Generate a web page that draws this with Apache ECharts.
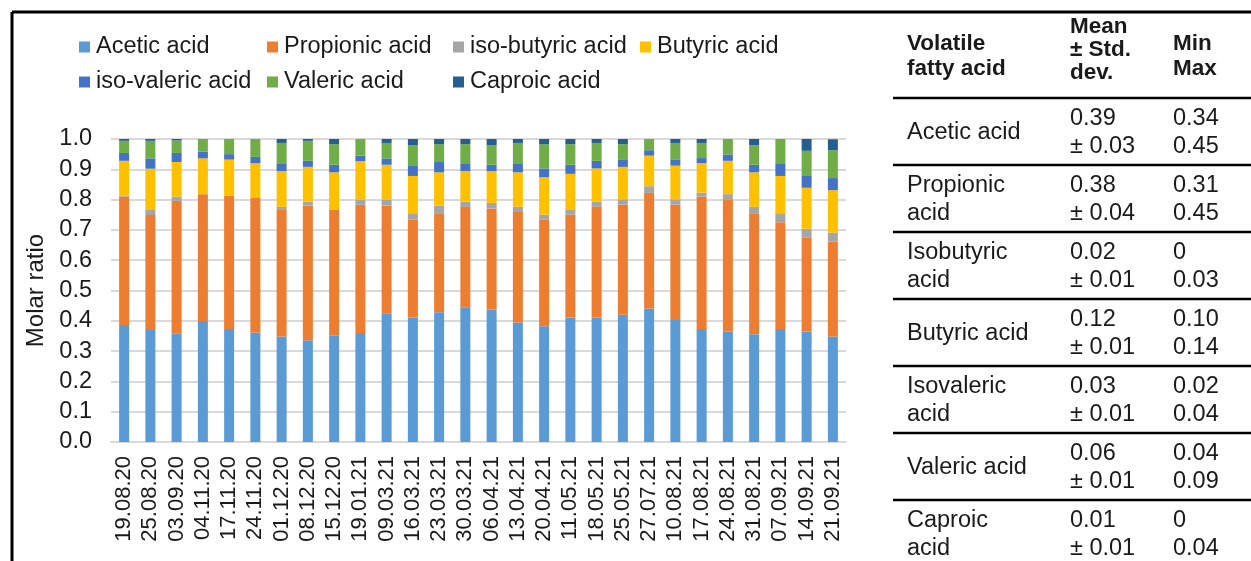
<!DOCTYPE html>
<html>
<head>
<meta charset="utf-8">
<script src="https://cdn.jsdelivr.net/npm/echarts@6/dist/echarts.min.js"></script>
<style>
  html, body { margin: 0; padding: 0; background: #fff; }
  #chart { width: 1251px; height: 561px; }
</style>
</head>
<body>
<div id="chart"></div>
<script>
// Sampling dates (x axis)
const dates = ['19.08.20','25.08.20','03.09.20','04.11.20','17.11.20','24.11.20','01.12.20','08.12.20','15.12.20',
  '19.01.21','09.03.21','16.03.21','23.03.21','30.03.21','06.04.21','13.04.21','20.04.21','11.05.21','18.05.21',
  '25.05.21','27.07.21','10.08.21','17.08.21','24.08.21','31.08.21','07.09.21','14.09.21','21.09.21'];

// Molar ratio of each acid per sample
const acetic     = [0.386,0.370,0.357,0.399,0.373,0.361,0.348,0.336,0.351,0.360,0.425,0.411,0.428,0.445,0.437,0.394,0.382,0.411,0.411,0.420,0.441,0.403,0.373,0.365,0.356,0.373,0.365,0.348];
const propionic  = [0.424,0.379,0.439,0.419,0.440,0.444,0.420,0.444,0.416,0.423,0.355,0.323,0.327,0.331,0.334,0.365,0.352,0.339,0.365,0.364,0.381,0.381,0.437,0.436,0.399,0.352,0.309,0.313];
const isoButyric = [0.004,0.019,0.014,0.000,0.000,0.000,0.008,0.013,0.000,0.017,0.020,0.021,0.025,0.017,0.018,0.017,0.016,0.018,0.017,0.017,0.022,0.017,0.013,0.017,0.021,0.030,0.030,0.030];
const butyric    = [0.114,0.134,0.114,0.118,0.119,0.115,0.118,0.115,0.123,0.127,0.115,0.123,0.110,0.101,0.105,0.114,0.124,0.117,0.110,0.107,0.101,0.111,0.097,0.110,0.114,0.123,0.135,0.140];
const isoValeric = [0.026,0.034,0.030,0.022,0.018,0.021,0.026,0.020,0.025,0.018,0.021,0.033,0.034,0.026,0.021,0.030,0.029,0.030,0.025,0.025,0.018,0.021,0.017,0.021,0.025,0.042,0.039,0.040];
const valeric    = [0.040,0.058,0.041,0.042,0.050,0.059,0.067,0.066,0.068,0.055,0.051,0.068,0.059,0.063,0.064,0.067,0.080,0.068,0.059,0.050,0.037,0.054,0.050,0.051,0.064,0.080,0.083,0.092];
const caproic    = [0.006,0.006,0.007,0.000,0.000,0.000,0.013,0.006,0.017,0.000,0.013,0.021,0.017,0.017,0.021,0.013,0.017,0.017,0.013,0.017,0.000,0.013,0.013,0.000,0.021,0.000,0.039,0.036];

const seriesNames  = ['Acetic acid','Propionic acid','iso-butyric acid','Butyric acid','iso-valeric acid','Valeric acid','Caproic acid'];
const seriesValues = [acetic, propionic, isoButyric, butyric, isoValeric, valeric, caproic];
const seriesColors = ['#5B9BD5','#ED7D31','#A5A5A5','#FFC000','#4472C4','#70AD47','#255E91'];

// Summary table
const tableHeader = [['Volatile','fatty acid'], ['Mean','± Std.','dev.'], ['Min','Max']];
const tableNames  = [['Acetic acid'], ['Propionic','acid'], ['Isobutyric','acid'], ['Butyric acid'], ['Isovaleric','acid'], ['Valeric acid'], ['Caproic','acid']];
const tableMeans  = ['0.39','0.38','0.02','0.12','0.03','0.06','0.01'];
const tableSDs    = ['± 0.03','± 0.04','± 0.01','± 0.01','± 0.01','± 0.01','± 0.01'];
const tableMins   = ['0.34','0.31','0','0.10','0.02','0.04','0'];
const tableMaxs   = ['0.45','0.45','0.03','0.14','0.04','0.09','0.04'];

const FONT = '"Liberation Sans", Arial, sans-serif';
const TXT = '#1a1a1a';

const chart = echarts.init(document.getElementById('chart'), null, { renderer: 'canvas' });

// Legend laid out as a grid of fixed columns
const legendCols = [79, 267, 453, 640];
const legendRows = [35, 70];
const legends = seriesNames.map((name, i) => ({
  data: [name],
  left: legendCols[i < 4 ? i : i - 4],
  top: legendRows[i < 4 ? 0 : 1],
  padding: 0,
  itemWidth: 11,
  itemHeight: 11,
  icon: 'rect',
  selectedMode: false,
  textStyle: { fontFamily: FONT, fontSize: 23.5, color: TXT, padding: [0, 0, 0, 1] }
}));

// Table graphics
const graphics = [];
const tblLeft = 893, tblRight = 1251;
const colX = [907, 1070, 1173];
const rowTops = [98, 165, 232, 299, 366, 433, 500];

graphics.push({ type: 'line', shape: { x1: 12, y1: 12, x2: 1251, y2: 12 }, style: { stroke: '#000', lineWidth: 3 } });
graphics.push({ type: 'line', shape: { x1: 12, y1: 12, x2: 12, y2: 561 }, style: { stroke: '#000', lineWidth: 3 } });
rowTops.forEach(y => {
  graphics.push({ type: 'line', shape: { x1: tblLeft, y1: y, x2: tblRight, y2: y }, style: { stroke: '#000', lineWidth: 2.5 } });
});

function addText(x, y, text, bold) {
  graphics.push({
    type: 'text', x: x, y: y,
    style: { text: text, fill: TXT, font: (bold ? 'bold 22.5px ' : '23.5px ') + FONT, textVerticalAlign: 'middle', textAlign: 'left' }
  });
}

// Header cells
const headerCenters = [[44, 69], [27, 50, 73], [44, 69]];
tableHeader.forEach((lines, c) => lines.forEach((t, k) => addText(colX[c], headerCenters[c][k], t, true)));

// Body rows
tableNames.forEach((lines, r) => {
  const top = rowTops[r];
  if (lines.length === 1) addText(colX[0], top + 35, lines[0], false);
  else { addText(colX[0], top + 21, lines[0], false); addText(colX[0], top + 49, lines[1], false); }
  addText(colX[1], top + 21, tableMeans[r], false);
  addText(colX[1], top + 49, tableSDs[r], false);
  addText(colX[2], top + 21, tableMins[r], false);
  addText(colX[2], top + 49, tableMaxs[r], false);
});

const option = {
  backgroundColor: '#fff',
  animation: false,
  legend: legends,
  grid: { left: 111, right: 405, top: 139, bottom: 119, containLabel: false },
  xAxis: {
    type: 'category',
    data: dates,
    axisLine: { lineStyle: { color: '#d9d9d9', width: 2 } },
    axisTick: { show: false },
    axisLabel: { rotate: 90, interval: 0, margin: 14, fontFamily: FONT, fontSize: 22, color: TXT }
  },
  yAxis: {
    type: 'value',
    min: 0, max: 1, interval: 0.1,
    name: 'Molar ratio',
    nameLocation: 'middle',
    nameGap: 54,
    nameTextStyle: { fontFamily: FONT, fontSize: 24, color: TXT },
    axisLine: { show: false },
    axisTick: { show: false },
    splitLine: { lineStyle: { color: '#d9d9d9', width: 2 } },
    axisLabel: { margin: 19, fontFamily: FONT, fontSize: 23.5, color: TXT, formatter: v => v.toFixed(1) }
  },
  series: seriesNames.map((name, i) => ({
    name: name,
    type: 'bar',
    stack: 'vfa',
    barWidth: 10,
    data: seriesValues[i],
    itemStyle: { color: seriesColors[i] }
  })),
  graphic: graphics
};

chart.setOption(option);
</script>
</body>
</html>
